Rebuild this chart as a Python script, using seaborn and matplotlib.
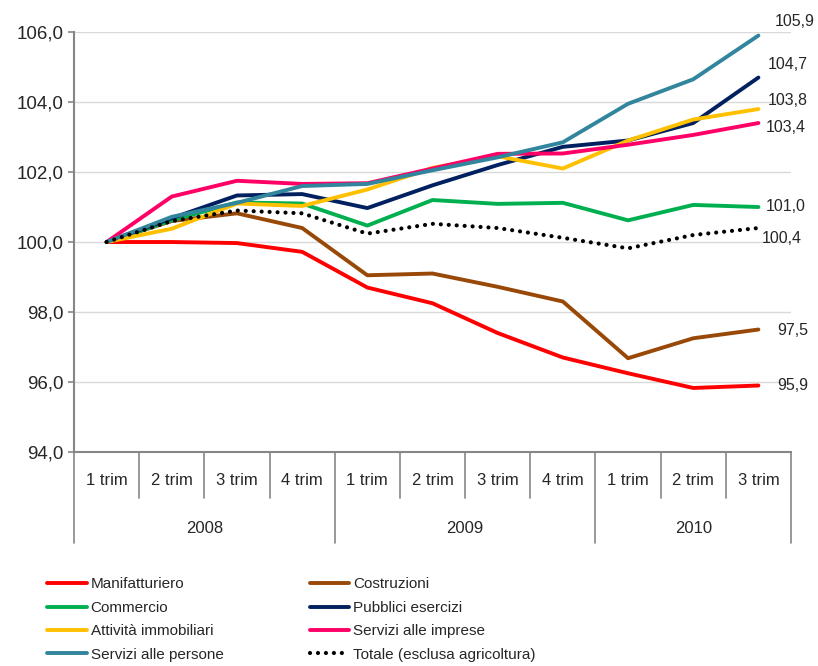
import matplotlib
matplotlib.use("Agg")
import matplotlib.pyplot as plt
from matplotlib import font_manager
import numpy as np
import pandas as pd
import seaborn as sns

# Data (index, 1 trim 2008 = 100)
trim_labels = ["1 trim", "2 trim", "3 trim", "4 trim",
               "1 trim", "2 trim", "3 trim", "4 trim",
               "1 trim", "2 trim", "3 trim"]
years = ["2008", "2009", "2010"]
year_counts = [4, 4, 3]

manifatturiero = [100.0, 100.0, 99.97, 99.72, 98.7, 98.25, 97.4, 96.7, 96.25, 95.83, 95.9]
costruzioni = [100.0, 100.6, 100.82, 100.4, 99.05, 99.1, 98.72, 98.3, 96.68, 97.25, 97.5]
commercio = [100.0, 100.62, 101.13, 101.1, 100.47, 101.2, 101.09, 101.12, 100.62, 101.06, 101.0]
pubblici = [100.0, 100.68, 101.33, 101.37, 100.97, 101.62, 102.2, 102.72, 102.9, 103.4, 104.7]
immobiliari = [100.0, 100.38, 101.1, 101.03, 101.5, 102.12, 102.45, 102.1, 102.9, 103.5, 103.8]
imprese = [100.0, 101.3, 101.75, 101.66, 101.68, 102.1, 102.52, 102.53, 102.78, 103.06, 103.4]
persone = [100.0, 100.72, 101.12, 101.6, 101.66, 102.05, 102.42, 102.85, 103.95, 104.65, 105.9]
totale = [100.0, 100.6, 100.9, 100.82, 100.24, 100.52, 100.4, 100.12, 99.82, 100.2, 100.4]

series_names = ["Manifatturiero", "Costruzioni", "Commercio", "Pubblici esercizi",
                "Attività immobiliari", "Servizi alle imprese", "Servizi alle persone",
                "Totale (esclusa agricoltura)"]
series_values = [manifatturiero, costruzioni, commercio, pubblici,
                 immobiliari, imprese, persone, totale]
colors = ["#ff0000", "#984807", "#00b050", "#002060",
          "#ffc000", "#ff0066", "#31859c", "#000000"]
# end-label offsets in pixels (styling only)
label_offsets = [(19, 0), (19, -1), (7, 1), (9, 13), (9, 9), (7, -4), (16, 14), (3, -10)]

sns.set_style("white")
plt.rcParams["font.family"] = ["Liberation Sans", "DejaVu Sans"]
installed = {f.name for f in font_manager.fontManager.ttflist}
legend_family = "Liberation Sans Narrow" if "Liberation Sans Narrow" in installed else "Liberation Sans"

grey = "#868686"
fig = plt.figure(figsize=(8.18, 6.66), dpi=100)
ax = fig.add_axes([0.0905, 0.3213, 0.8765, 0.6306])

pos = np.arange(len(trim_labels))
df = pd.DataFrame({"pos": pos})
for name, vals in zip(series_names, series_values):
    df[name] = vals

for name, col in zip(series_names, colors):
    if name.startswith("Totale"):
        sns.lineplot(data=df, x="pos", y=name, ax=ax, color=col, linewidth=3.0,
                     linestyle=(0, (0.01, 1.9)), dash_capstyle="round", label=name)
    else:
        sns.lineplot(data=df, x="pos", y=name, ax=ax, color=col, linewidth=2.8,
                     solid_capstyle="round", label=name)

if ax.get_legend() is not None:
    ax.get_legend().remove()

ax.set_xlim(-0.5, len(trim_labels) - 0.5)
ax.set_ylim(94, 106)
ax.set_yticks(np.arange(94, 106.1, 2))
ax.set_yticklabels([f"{v:.1f}".replace(".", ",") for v in np.arange(94, 106.1, 2)])
ax.set_xticks([])
ax.set_xlabel("")
ax.set_ylabel("")
ax.tick_params(axis="y", left=True, length=4.5, width=1.2, color=grey,
               labelsize=13.5, pad=3)
ax.yaxis.grid(True, color="#d9d9d9", linewidth=1)
ax.set_axisbelow(True)
for s in ["top", "right"]:
    ax.spines[s].set_visible(False)
for s in ["left", "bottom"]:
    ax.spines[s].set_color(grey)
    ax.spines[s].set_linewidth(1.5)

# value labels at the end of each series
for vals, (dx, dy) in zip(series_values, label_offsets):
    v = vals[-1]
    ax.annotate(f"{v:.1f}".replace(".", ","), xy=(pos[-1], v), xytext=(dx, dy),
                textcoords="offset pixels", ha="left", va="center", fontsize=11.5)

# two-level category axis drawn as a table
tr = ax.get_xaxis_transform()
year_edges = np.cumsum([0] + year_counts) - 0.5
for b in np.arange(len(trim_labels) + 1) - 0.5:
    low = -0.2167 if np.any(np.isclose(year_edges, b)) else -0.1095
    ax.plot([b, b], [0, low], transform=tr, clip_on=False, color=grey, linewidth=1.2)
for p, lab in zip(pos, trim_labels):
    ax.text(p, -0.069, lab, transform=tr, ha="center", va="center", fontsize=12)
for i, yr in enumerate(years):
    ax.text((year_edges[i] + year_edges[i + 1]) / 2, -0.181, yr, transform=tr,
            ha="center", va="center", fontsize=12)

# legend, two columns filled row-wise like the original
handles, labels = ax.get_legend_handles_labels()
order = [0, 2, 4, 6, 1, 3, 5, 7]
fig.legend([handles[i] for i in order], [labels[i] for i in order],
           ncol=2, loc="upper left", bbox_to_anchor=(0.0575, 0.133),
           frameon=False, borderpad=0, borderaxespad=0,
           handlelength=2.6, handletextpad=0.25, columnspacing=5.65,
           labelspacing=0.62, prop={"family": legend_family, "size": 11})

fig.savefig("out.png", dpi=100)
